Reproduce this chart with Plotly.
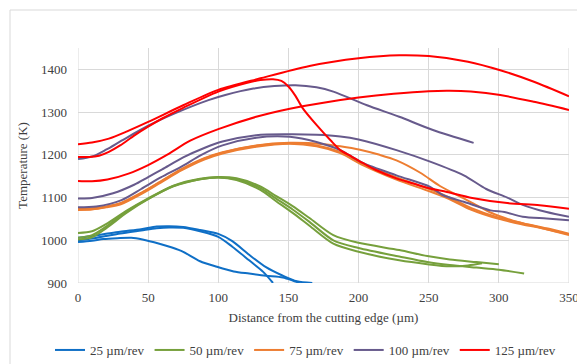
import plotly.graph_objects as go

# Temperature profiles along the tool face, three runs per feed rate
feed_labels = ["25 µm/rev", "50 µm/rev", "75 µm/rev", "100 µm/rev", "125 µm/rev"]
feed_colors = ["#0F6FC6", "#76A03C", "#ED7D31", "#675A8C", "#FF0000"]

# 25 µm/rev
b1_x = [0, 10, 20, 30, 45, 56, 65, 75, 87, 100, 110, 122, 134, 146, 156, 167]
b1_y = [1006, 1010, 1015, 1020, 1026, 1032, 1033, 1031, 1024, 1015, 998, 966, 937, 917, 904, 900]
b2_x = [0, 10, 20, 30, 45, 56, 65, 75, 87, 100, 110, 122, 132, 139]
b2_y = [1000, 1004, 1010, 1016, 1023, 1028, 1030, 1029, 1021, 1008, 985, 953, 926, 900]
b3_x = [0, 10, 18, 28, 38, 46, 58, 67, 75, 87, 99, 111, 122, 134, 146, 153, 158]
b3_y = [996, 999, 1003, 1005, 1006, 1002, 992, 983, 973, 951, 938, 927, 922, 917, 913, 906, 900]

# 50 µm/rev
g1_x = [0, 10, 20, 35, 50, 68, 87, 100, 113, 130, 141, 153, 165, 182, 200, 229, 249, 265, 284, 300]
g1_y = [1017, 1021, 1038, 1070, 1098, 1128, 1144, 1148, 1145, 1126, 1104, 1080, 1052, 1012, 994, 977, 963, 955, 949, 944]
g2_x = [0, 10, 20, 35, 50, 68, 87, 100, 113, 130, 141, 153, 165, 182, 200, 229, 249, 265, 284, 300, 318]
g2_y = [1006, 1012, 1032, 1068, 1097, 1127, 1143, 1147, 1143, 1122, 1098, 1072, 1043, 1000, 982, 962, 949, 942, 936, 931, 922]
g3_x = [0, 10, 20, 35, 50, 68, 87, 100, 113, 130, 141, 153, 165, 182, 200, 229, 249, 265, 278, 288]
g3_y = [1002, 1007, 1028, 1065, 1096, 1126, 1143, 1147, 1141, 1118, 1092, 1064, 1034, 992, 973, 953, 944, 939, 941, 946]

# 75 µm/rev
o1_x = [0, 10, 20, 31, 45, 59, 74, 90, 103, 127, 151, 175, 187, 201, 215, 227, 244, 258, 275, 282, 294, 310, 329, 350]
o1_y = [1074, 1075, 1079, 1088, 1111, 1138, 1167, 1192, 1206, 1222, 1228, 1225, 1220, 1212, 1200, 1187, 1158, 1127, 1098, 1086, 1065, 1046, 1030, 1012]
o2_x = [0, 10, 20, 31, 45, 59, 74, 90, 103, 127, 151, 170, 187, 203, 227, 251, 265, 280, 300, 317, 334, 350]
o2_y = [1072, 1073, 1078, 1087, 1110, 1137, 1166, 1191, 1205, 1221, 1227, 1222, 1207, 1180, 1147, 1119, 1100, 1076, 1053, 1040, 1028, 1015]
o3_x = [0, 10, 20, 31, 45, 59, 74, 90, 103, 127, 151, 170, 187, 203, 227, 251, 265, 280, 300, 317, 334, 350]
o3_y = [1071, 1072, 1077, 1085, 1108, 1135, 1164, 1189, 1203, 1219, 1226, 1220, 1204, 1176, 1142, 1114, 1096, 1072, 1050, 1037, 1026, 1014]

# 100 µm/rev
p1_x = [0, 10, 20, 31, 50, 69, 93, 105, 125, 140, 155, 170, 182, 206, 229, 253, 282]
p1_y = [1190, 1196, 1212, 1233, 1268, 1297, 1328, 1340, 1355, 1361, 1363, 1358, 1348, 1316, 1289, 1258, 1228]
p2_x = [0, 10, 25, 40, 50, 60, 75, 90, 103, 127, 150, 170, 187, 200, 227, 251, 275, 291, 306, 317, 334, 350]
p2_y = [1098, 1099, 1110, 1130, 1148, 1166, 1194, 1216, 1231, 1246, 1248, 1247, 1243, 1236, 1211, 1184, 1152, 1120, 1100, 1083, 1066, 1055]
p3_x = [0, 13, 31, 45, 59, 74, 88, 103, 127, 151, 170, 187, 203, 227, 251, 260, 275, 294, 304, 317, 334, 350]
p3_y = [1077, 1079, 1094, 1120, 1147, 1173, 1200, 1222, 1240, 1242, 1230, 1211, 1181, 1152, 1125, 1106, 1090, 1070, 1066, 1055, 1051, 1047]

# 125 µm/rev
r1_x = [0, 10, 22, 35, 50, 75, 100, 130, 165, 200, 229, 250, 278, 301, 325, 350]
r1_y = [1225, 1229, 1238, 1255, 1277, 1316, 1352, 1379, 1408, 1426, 1433, 1431, 1418, 1398, 1371, 1337]
r2_x = [0, 8, 15, 22, 30, 40, 50, 60, 75, 100, 120, 130, 139, 145, 150, 155, 160, 170, 180, 187, 195,
        203, 212, 227, 239, 251, 263, 281, 306, 329, 350]
r2_y = [1195, 1195, 1198, 1207, 1222, 1245, 1266, 1285, 1310, 1348, 1368, 1375, 1377, 1373, 1360, 1338, 1310,
        1270, 1234, 1211, 1196, 1181, 1165, 1145, 1133, 1121, 1113, 1099, 1087, 1082, 1074]
r3_x = [0, 10, 21, 36, 50, 64, 80, 100, 127, 151, 175, 200, 225, 250, 265, 280, 301, 325, 350]
r3_y = [1139, 1138, 1142, 1156, 1176, 1201, 1233, 1260, 1289, 1308, 1322, 1334, 1343, 1349, 1350, 1348, 1340, 1324, 1305]

groups = [
    [(b1_x, b1_y), (b2_x, b2_y), (b3_x, b3_y)],
    [(g1_x, g1_y), (g2_x, g2_y), (g3_x, g3_y)],
    [(o1_x, o1_y), (o2_x, o2_y), (o3_x, o3_y)],
    [(p1_x, p1_y), (p2_x, p2_y), (p3_x, p3_y)],
    [(r1_x, r1_y), (r2_x, r2_y), (r3_x, r3_y)],
]

FONT = "Liberation Serif, Times New Roman, serif"
TEXT = "#404040"
GRID = "#D9D9D9"
X_RANGE = [0, 350]
Y_RANGE = [900, 1450]

fig = go.Figure()
for label, color, runs in zip(feed_labels, feed_colors, groups):
    for i, (xs, ys) in enumerate(runs):
        fig.add_trace(go.Scatter(
            x=xs, y=ys, mode="lines", name=label, legendgroup=label,
            showlegend=(i == 0),
            line=dict(color=color, width=2, shape="spline", smoothing=0.8),
        ))

W, H = 577, 364
L, R, T, B = 78, 8, 48, 81
pw, ph = W - L - R, H - T - B

def px_x(p):
    return (p - L) / pw

def px_y(p):
    return 1 - (p - T) / ph

fig.update_layout(
    width=W, height=H,
    margin=dict(l=L, r=R, t=T, b=B, autoexpand=False),
    paper_bgcolor="white", plot_bgcolor="white",
    font=dict(family=FONT, size=13, color=TEXT),
    showlegend=True,
    legend=dict(
        orientation="h", x=px_x(50), xanchor="left", y=px_y(350), yanchor="middle",
        font=dict(family=FONT, size=13, color=TEXT),
        bgcolor="rgba(0,0,0,0)",
    ),
    xaxis=dict(
        range=X_RANGE, tickmode="linear", tick0=0, dtick=50,
        showgrid=True, gridcolor=GRID, gridwidth=1,
        zeroline=False, showline=False, ticks="",
        ticklabelstandoff=5, ticklabeloverflow="allow",
        tickfont=dict(family=FONT, size=13, color=TEXT),
        title=dict(text="Distance from the cutting edge (µm)", standoff=8,
                   font=dict(family=FONT, size=13, color=TEXT)),
    ),
    yaxis=dict(
        range=Y_RANGE, tickmode="linear", tick0=900, dtick=100,
        showgrid=True, gridcolor=GRID, gridwidth=1,
        zeroline=False, showline=False, ticks="",
        ticklabelstandoff=10,
        tickfont=dict(family=FONT, size=13, color=TEXT),
        title=dict(text="Temperature (K)", standoff=10,
                   font=dict(family=FONT, size=13, color=TEXT)),
    ),
    shapes=[
        # chart frame
        dict(type="rect", xref="paper", yref="paper",
             x0=px_x(10), x1=px_x(600), y0=px_y(400), y1=px_y(10),
             line=dict(color=GRID, width=1), fillcolor="rgba(0,0,0,0)", layer="below"),
        # plot-area edges on the first and last grid positions
        dict(type="line", xref="x", yref="y", x0=X_RANGE[0], x1=X_RANGE[0], y0=Y_RANGE[0], y1=Y_RANGE[1],
             line=dict(color=GRID, width=1), layer="below"),
        dict(type="line", xref="x", yref="y", x0=X_RANGE[1], x1=X_RANGE[1], y0=Y_RANGE[0], y1=Y_RANGE[1],
             line=dict(color=GRID, width=1), layer="below"),
        dict(type="line", xref="x", yref="y", x0=X_RANGE[0], x1=X_RANGE[1], y0=Y_RANGE[0], y1=Y_RANGE[0],
             line=dict(color=GRID, width=1), layer="below"),
    ],
)

fig.write_html("out.html")
